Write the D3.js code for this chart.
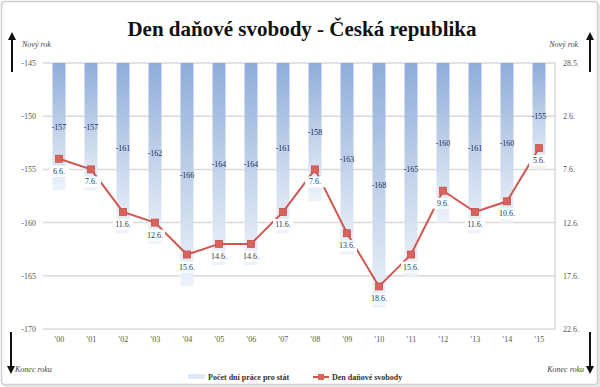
<!DOCTYPE html>
<html>
<head>
<meta charset="utf-8">
<script src="https://cdn.jsdelivr.net/npm/d3@7"></script>
<style>
  body { margin: 0; background: #fff; }
  svg { display: block; font-family: "Liberation Serif", "DejaVu Serif", serif; }
</style>
</head>
<body>
<svg id="chart" width="600" height="387"></svg>
<script>
// data
let years = ["’00", "’01", "’02", "’03", "’04", "’05", "’06", "’07", "’08", "’09", "’10", "’11", "’12", "’13", "’14", "’15"];
let workDays = [-157, -157, -161, -162, -166, -164, -164, -161, -158, -163, -168, -165, -160, -161, -160, -155];
let freedomDay = [-154, -155, -159, -160, -163, -162, -162, -159, -155, -161, -166, -163, -157, -159, -158, -153];
let freedomLabels = ["6.6.", "7.6.", "11.6.", "12.6.", "15.6.", "14.6.", "14.6.", "11.6.", "7.6.", "13.6.", "18.6.", "15.6.", "9.6.", "11.6.", "10.6.", "5.6."];
let leftTicks = [-145, -150, -155, -160, -165, -170];
let rightTickLabels = ["28.5.", "2.6.", "7.6.", "12.6.", "17.6.", "22.6."];

let svg = d3.select("#chart");
let W = 600, H = 387;
let m = { left: 43, right: 555, top: 63, bottom: 329 };

// outer frame
svg.append("rect")
    .attr("x", 1.5).attr("y", 1.5)
    .attr("width", W - 4).attr("height", H - 4)
    .attr("rx", 3)
    .style("fill", "#fff").style("stroke", "#cfcfcf").style("stroke-width", 1.5);
svg.append("path")
    .attr("d", `M${W - 1},4V${H - 1}H4`)
    .style("fill", "none").style("stroke", "#e4e4e4").style("stroke-width", 2);

svg.append("text")
    .attr("x", 302).attr("y", 36)
    .attr("text-anchor", "middle")
    .style("font-size", "21px").style("font-weight", "bold").style("fill", "#111")
    .text("Den daňové svobody - Česká republika");

let x = d3.scaleBand().domain(years).range([m.left, m.right]);
let y = d3.scaleLinear().domain([-145, -170]).range([m.top, m.bottom]);

let defs = svg.append("defs");
let grad = defs.append("linearGradient").attr("id", "barGrad")
    .attr("x1", 0).attr("y1", 0).attr("x2", 0).attr("y2", 1);
grad.append("stop").attr("offset", "0%").attr("stop-color", "#8eadd9");
grad.append("stop").attr("offset", "100%").attr("stop-color", "#eef3fa");

// gridlines
svg.append("g").selectAll("line")
    .data(leftTicks).enter().append("line")
    .attr("x1", m.left).attr("x2", m.right)
    .attr("y1", d => y(d)).attr("y2", d => y(d))
    .style("stroke", "#d9d9d9").style("stroke-width", 1.5);

svg.append("line")
    .attr("x1", m.right).attr("x2", m.right)
    .attr("y1", m.top).attr("y2", m.bottom)
    .style("stroke", "#d9d9d9").style("stroke-width", 1.5);

// bars
let barW = 13;
svg.append("g").selectAll("rect")
    .data(workDays).enter().append("rect")
    .attr("x", (d, i) => x(years[i]) + x.bandwidth() / 2 - barW / 2)
    .attr("y", y(-145))
    .attr("width", barW)
    .attr("height", d => y(d) - y(-145))
    .style("fill", "url(#barGrad)");

svg.append("g").selectAll("text")
    .data(workDays).enter().append("text")
    .attr("x", (d, i) => x(years[i]) + x.bandwidth() / 2)
    .attr("y", d => (y(d) + y(-145)) / 2 + 3)
    .attr("text-anchor", "middle")
    .style("font-size", "8px").style("fill", "#1c2f55")
    .text(d => d);

// line
let cx = (d, i) => x(years[i]) + x.bandwidth() / 2;
let line = d3.line().x(cx).y(d => y(d));
svg.append("path")
    .datum(freedomDay)
    .attr("d", line)
    .style("fill", "none").style("stroke", "#d2554f").style("stroke-width", 2);

svg.append("g").selectAll("rect")
    .data(freedomDay).enter().append("rect")
    .attr("x", (d, i) => cx(d, i) - 3.5)
    .attr("y", d => y(d) - 3.5)
    .attr("width", 7).attr("height", 7)
    .style("fill", "#d9625b").style("stroke", "#c9504a").style("stroke-width", 0.8);

let lbl = svg.append("g").selectAll("g")
    .data(freedomDay).enter().append("g")
    .attr("transform", (d, i) => `translate(${cx(d, i)},${y(d) + 15})`);
lbl.append("rect")
    .attr("x", -10).attr("y", -8).attr("width", 20).attr("height", 11)
    .style("fill", "#fff");
lbl.append("text")
    .attr("text-anchor", "middle")
    .style("font-size", "8px").style("fill", "#333")
    .text((d, i) => freedomLabels[i]);

// axes labels
svg.append("g").selectAll("text")
    .data(leftTicks).enter().append("text")
    .attr("x", 36).attr("y", d => y(d) + 3)
    .attr("text-anchor", "end")
    .style("font-size", "8px").style("fill", "#555")
    .text(d => d);

svg.append("g").selectAll("text")
    .data(leftTicks).enter().append("text")
    .attr("x", 563).attr("y", d => y(d) + 3)
    .style("font-size", "8px").style("fill", "#555")
    .text((d, i) => rightTickLabels[i]);

svg.append("g").selectAll("text")
    .data(years).enter().append("text")
    .attr("x", d => x(d) + x.bandwidth() / 2)
    .attr("y", 342)
    .attr("text-anchor", "middle")
    .style("font-size", "8px").style("fill", "#555")
    .text(d => d);

// arrows
defs.append("marker").attr("id", "arr")
    .attr("viewBox", "0 0 10 10").attr("refX", 5).attr("refY", 5)
    .attr("markerWidth", 4).attr("markerHeight", 4).attr("orient", "auto")
    .append("path").attr("d", "M0,0L10,5L0,10z").style("fill", "#111");

function arrow(x0, y0, y1) {
    svg.append("line")
        .attr("x1", x0).attr("x2", x0).attr("y1", y0).attr("y2", y1)
        .style("stroke", "#111").style("stroke-width", 2)
        .attr("marker-end", "url(#arr)");
}
arrow(12, 72, 36);
arrow(590, 72, 36);
arrow(11, 332, 370);
arrow(590, 332, 370);

let note = (tx, ty, anchor, t) => svg.append("text")
    .attr("x", tx).attr("y", ty).attr("text-anchor", anchor)
    .style("font-size", "8px").style("font-style", "italic").style("fill", "#444")
    .text(t);
note(22, 47, "start", "Nový rok");
note(578, 47, "end", "Nový rok");
note(15, 372, "start", "Konec roku");
note(584, 372, "end", "Konec roku");

// legend
let lg = svg.append("g");
lg.append("rect").attr("x", 188).attr("y", 374).attr("width", 17).attr("height", 5)
    .style("fill", "#dfe8f5");
lg.append("text").attr("x", 208).attr("y", 380)
    .style("font-size", "8px").style("font-weight", "bold").style("fill", "#333")
    .text("Počet dní práce pro stát");
lg.append("line").attr("x1", 313).attr("x2", 329).attr("y1", 377).attr("y2", 377)
    .style("stroke", "#d2554f").style("stroke-width", 2);
lg.append("rect").attr("x", 318).attr("y", 374).attr("width", 6).attr("height", 6)
    .style("fill", "#d9625b");
lg.append("text").attr("x", 332).attr("y", 380)
    .style("font-size", "8px").style("font-weight", "bold").style("fill", "#333")
    .text("Den daňové svobody");
</script>
</body>
</html>
